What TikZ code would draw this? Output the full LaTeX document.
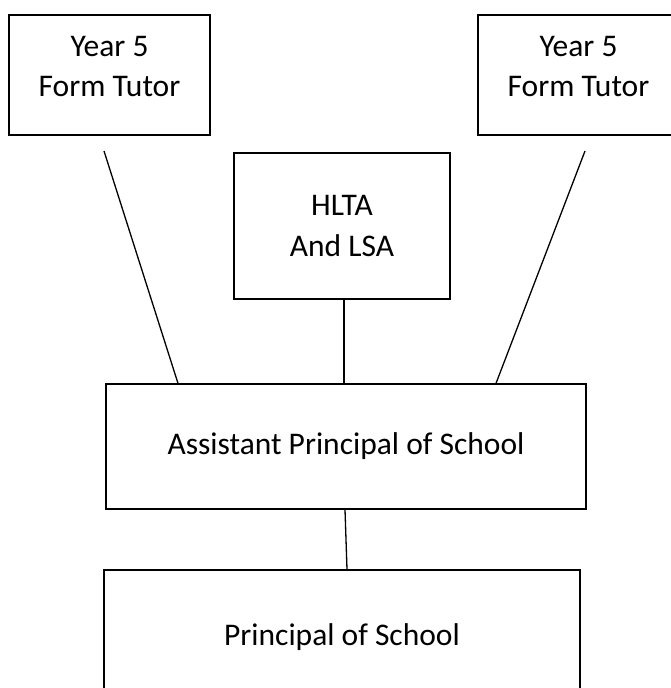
\documentclass[tikz,border=0pt]{standalone}
\usepackage{fontspec}
\setmainfont{Carlito}
\usetikzlibrary{calc}

\begin{document}
\begin{tikzpicture}[x=1pt,y=-1pt]
% Specify the look of the boxes
\tikzstyle{role box}=[draw,line width=1.3pt,align=center,inner sep=0pt,font=\fontsize{31.5}{40.5}\selectfont]
\tikzset{
tutor box/.style={role box,minimum width=201pt,minimum height=120pt,text depth=17pt},
link/.style={line width=1.3pt}
}
\useasboundingbox (0,0) rectangle (671,688);
\node[tutor box] (tutorL) at (109.5,75) {Year 5\\Form Tutor};
\node[tutor box] (tutorR) at (578.5,75) {Year 5\\Form Tutor};
\node[role box,minimum width=216pt,minimum height=146pt] (hlta) at (342,226) {HLTA\\And LSA};
\node[role box,minimum width=480pt,minimum height=125pt] (asst) at (346,446.5) {Assistant Principal of School};
\node[role box,minimum width=476pt,minimum height=134pt] (head) at (342,637) {Principal of School};
% free ends below the tutor boxes
\coordinate (tutorLend) at (104,151);
\coordinate (tutorRend) at (585,151);
\draw[link] (tutorLend) -- (178,0 |- asst.north);
\draw[link] (tutorRend) -- (496,0 |- asst.north);
\draw[link] ([xshift=2]hlta.south) -- ([xshift=2]hlta.south |- asst.north);
\draw[link] ([xshift=-1]asst.south) -- ([xshift=5]head.north);
\end{tikzpicture}
\end{document}
